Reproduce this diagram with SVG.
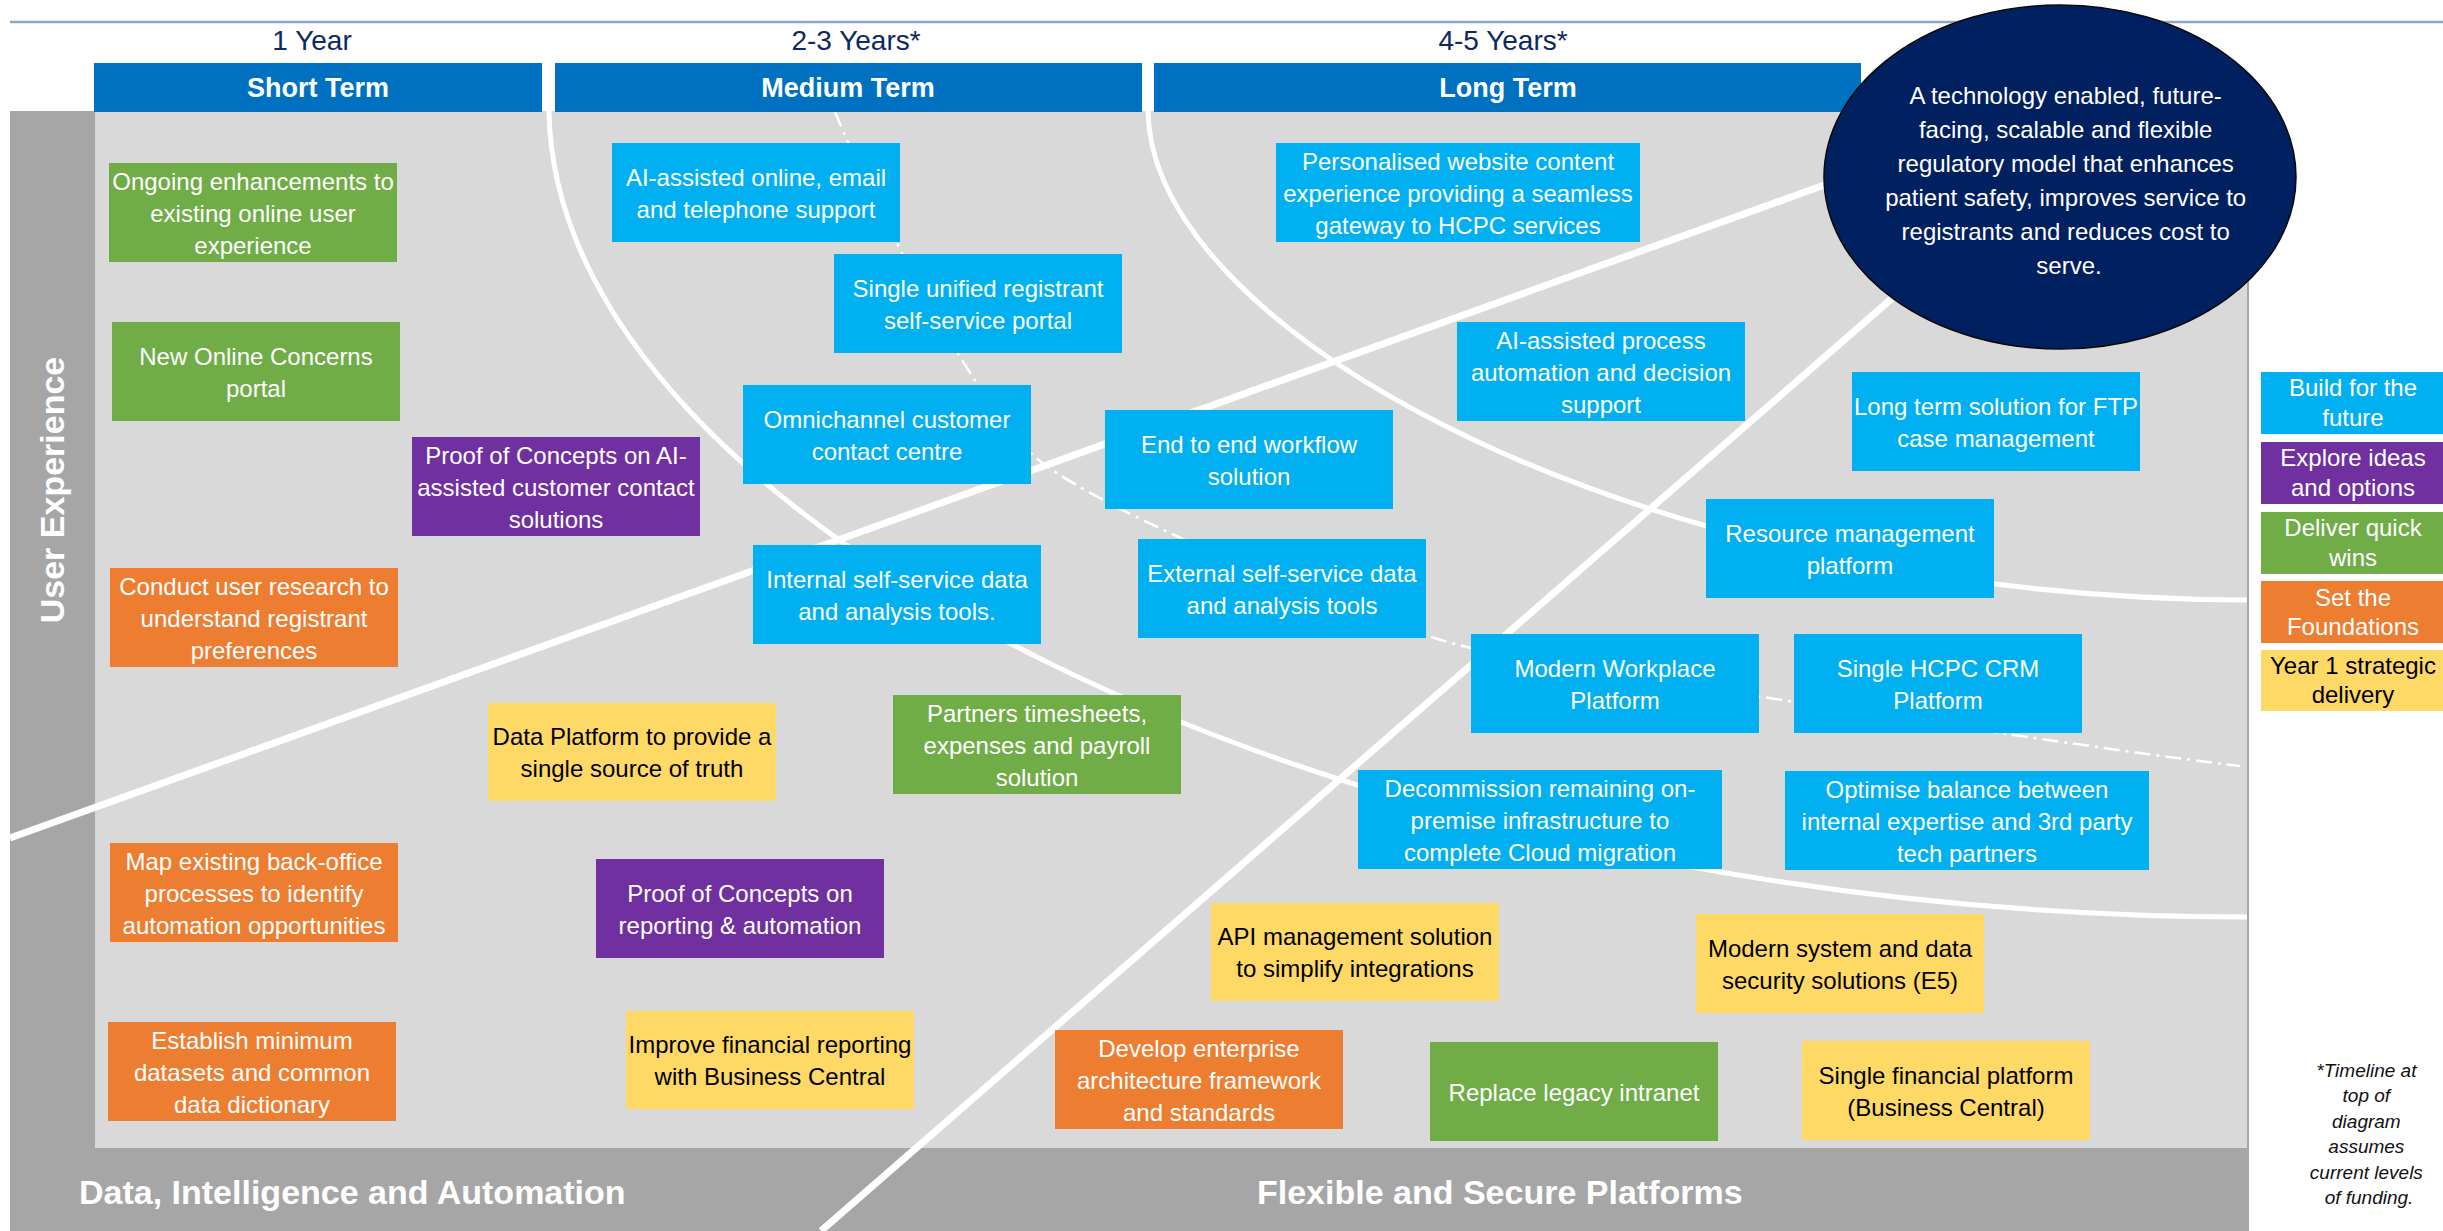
<svg xmlns="http://www.w3.org/2000/svg" width="2443" height="1231" viewBox="0 0 2443 1231">
<style>
  .t{font-family:"Liberation Sans",Arial,sans-serif;font-size:24px;text-anchor:middle}
  .w{fill:#ffffff}
  .k{fill:#000000}
  .blue{fill:#00b0f0}
  .green{fill:#70ad47}
  .orange{fill:#ed7d31}
  .purple{fill:#7030a0}
  .yellow{fill:#ffd966}
  .hdr{fill:#0070c0}
  .hdrt{font-family:"Liberation Sans",Arial,sans-serif;font-size:27px;font-weight:bold;fill:#ffffff;text-anchor:middle}
  .yr{font-family:"Liberation Sans",Arial,sans-serif;font-size:28px;fill:#0e2a5c;text-anchor:middle}
  .band{font-family:"Liberation Sans",Arial,sans-serif;font-size:34px;font-weight:bold;fill:#ffffff}
  .curve{fill:none;stroke:#ffffff;stroke-width:5}
  .diag{fill:none;stroke:#ffffff;stroke-width:7}
  .dash{fill:none;stroke:#ffffff;stroke-width:2.5;stroke-dasharray:16 6 3 6}
  .note{font-family:"Liberation Sans",Arial,sans-serif;font-size:19px;font-style:italic;fill:#111111;text-anchor:middle}
</style>

<rect x="0" y="0" width="2443" height="1231" fill="#ffffff"/>
<line x1="10" y1="22" x2="2443" y2="22" stroke="#8ea9c4" stroke-width="2.5"/>

<g id="background">
  <rect x="10" y="111" width="2239" height="1120" fill="#a6a6a6"/>
  <rect x="95" y="111" width="2152" height="1037" fill="#d9d9d9"/>
</g>

<g id="connectors">
  <path class="curve" d="M549,111 C555,520 1330,915 2247,917"/>
  <path class="curve" d="M1148,111 C1152,335 1640,598 2247,600"/>
  <line class="diag" x1="10" y1="838" x2="1830" y2="183"/>
  <line class="diag" x1="821" y1="1231" x2="1905" y2="287"/>
  <path class="dash" d="M835,112 C875,208 974,402 1034,456 S1380,628 1471,648 S2100,750 2240,766"/>
</g>

<g id="timeline">
  <text class="yr" x="312" y="50">1 Year</text>
  <text class="yr" x="856" y="50">2-3 Years*</text>
  <text class="yr" x="1503" y="50">4-5 Years*</text>
  <g id="hdr-short"><rect class="hdr" x="94" y="63" width="448" height="49"/><text class="hdrt" x="318" y="97">Short Term</text></g>
  <g id="hdr-medium"><rect class="hdr" x="555" y="63" width="587" height="49"/><text class="hdrt" x="848" y="97">Medium Term</text></g>
  <g id="hdr-long"><rect class="hdr" x="1154" y="63" width="707" height="49"/><text class="hdrt" x="1508" y="97">Long Term</text></g>
</g>

<g id="lane-labels">
  <text class="band" x="64" y="490" text-anchor="middle" font-size="33" transform="rotate(-90 64 490)">User Experience</text>
  <text class="band" x="79" y="1204">Data, Intelligence and Automation</text>
  <text class="band" x="1257" y="1204">Flexible and Secure Platforms</text>
</g>

<g id="n1"><rect class="green" x="109" y="163" width="288" height="99"/><text class="t w" x="253"><tspan x="253" y="189.5">Ongoing enhancements to</tspan><tspan x="253" y="221.5">existing online user</tspan><tspan x="253" y="253.5">experience</tspan></text></g>
<g id="n2"><rect class="green" x="112" y="322" width="288" height="99"/><text class="t w"><tspan x="256" y="364.5">New Online Concerns</tspan><tspan x="256" y="396.5">portal</tspan></text></g>
<g id="n3"><rect class="purple" x="412" y="437" width="288" height="99"/><text class="t w"><tspan x="556" y="463.5">Proof of Concepts on AI-</tspan><tspan x="556" y="495.5">assisted customer contact</tspan><tspan x="556" y="527.5">solutions</tspan></text></g>
<g id="n4"><rect class="orange" x="110" y="568" width="288" height="99"/><text class="t w"><tspan x="254" y="594.5">Conduct user research to</tspan><tspan x="254" y="626.5">understand registrant</tspan><tspan x="254" y="658.5">preferences</tspan></text></g>
<g id="n5"><rect class="orange" x="110" y="843" width="288" height="99"/><text class="t w"><tspan x="254" y="869.5">Map existing back-office</tspan><tspan x="254" y="901.5">processes to identify</tspan><tspan x="254" y="933.5">automation opportunities</tspan></text></g>
<g id="n6"><rect class="orange" x="108" y="1022" width="288" height="99"/><text class="t w"><tspan x="252" y="1048.5">Establish minimum</tspan><tspan x="252" y="1080.5">datasets and common</tspan><tspan x="252" y="1112.5">data dictionary</tspan></text></g>
<g id="n7"><rect class="yellow" x="488" y="703" width="288" height="98"/><text class="t k"><tspan x="632" y="745">Data Platform to provide a</tspan><tspan x="632" y="777">single source of truth</tspan></text></g>
<g id="n8"><rect class="purple" x="596" y="859" width="288" height="99"/><text class="t w"><tspan x="740" y="901.5">Proof of Concepts on</tspan><tspan x="740" y="933.5">reporting &amp; automation</tspan></text></g>
<g id="n9"><rect class="yellow" x="626" y="1011" width="288" height="98"/><text class="t k"><tspan x="770" y="1053">Improve financial reporting</tspan><tspan x="770" y="1085">with Business Central</tspan></text></g>
<g id="n10"><rect class="blue" x="612" y="143" width="288" height="99"/><text class="t w"><tspan x="756" y="185.5">AI-assisted online, email</tspan><tspan x="756" y="217.5">and telephone support</tspan></text></g>
<g id="n11"><rect class="blue" x="834" y="254" width="288" height="99"/><text class="t w"><tspan x="978" y="296.5">Single unified registrant</tspan><tspan x="978" y="328.5">self-service portal</tspan></text></g>
<g id="n12"><rect class="blue" x="743" y="385" width="288" height="99"/><text class="t w"><tspan x="887" y="427.5">Omnichannel customer</tspan><tspan x="887" y="459.5">contact centre</tspan></text></g>
<g id="n13"><rect class="blue" x="1105" y="410" width="288" height="99"/><text class="t w"><tspan x="1249" y="452.5">End to end workflow</tspan><tspan x="1249" y="484.5">solution</tspan></text></g>
<g id="n14"><rect class="blue" x="753" y="545" width="288" height="99"/><text class="t w"><tspan x="897" y="587.5">Internal self-service data</tspan><tspan x="897" y="619.5">and analysis tools.</tspan></text></g>
<g id="n15"><rect class="blue" x="1138" y="539" width="288" height="99"/><text class="t w"><tspan x="1282" y="581.5">External self-service data</tspan><tspan x="1282" y="613.5">and analysis tools</tspan></text></g>
<g id="n16"><rect class="green" x="893" y="695" width="288" height="99"/><text class="t w"><tspan x="1037" y="721.5">Partners timesheets,</tspan><tspan x="1037" y="753.5">expenses and payroll</tspan><tspan x="1037" y="785.5">solution</tspan></text></g>
<g id="n17"><rect class="orange" x="1055" y="1030" width="288" height="99"/><text class="t w"><tspan x="1199" y="1056.5">Develop enterprise</tspan><tspan x="1199" y="1088.5">architecture framework</tspan><tspan x="1199" y="1120.5">and standards</tspan></text></g>
<g id="n18"><rect class="yellow" x="1211" y="903" width="288" height="98"/><text class="t k"><tspan x="1355" y="945">API management solution</tspan><tspan x="1355" y="977">to simplify integrations</tspan></text></g>
<g id="n19"><rect class="blue" x="1276" y="143" width="364" height="99"/><text class="t w"><tspan x="1458" y="169.5">Personalised website content</tspan><tspan x="1458" y="201.5">experience providing a seamless</tspan><tspan x="1458" y="233.5">gateway to HCPC services</tspan></text></g>
<g id="n20"><rect class="blue" x="1457" y="322" width="288" height="99"/><text class="t w"><tspan x="1601" y="348.5">AI-assisted process</tspan><tspan x="1601" y="380.5">automation and decision</tspan><tspan x="1601" y="412.5">support</tspan></text></g>
<g id="n21"><rect class="blue" x="1852" y="372" width="288" height="99"/><text class="t w"><tspan x="1996" y="414.5">Long term solution for FTP</tspan><tspan x="1996" y="446.5">case management</tspan></text></g>
<g id="n22"><rect class="blue" x="1706" y="499" width="288" height="99"/><text class="t w"><tspan x="1850" y="541.5">Resource management</tspan><tspan x="1850" y="573.5">platform</tspan></text></g>
<g id="n23"><rect class="blue" x="1471" y="634" width="288" height="99"/><text class="t w"><tspan x="1615" y="676.5">Modern Workplace</tspan><tspan x="1615" y="708.5">Platform</tspan></text></g>
<g id="n24"><rect class="blue" x="1794" y="634" width="288" height="99"/><text class="t w"><tspan x="1938" y="676.5">Single HCPC CRM</tspan><tspan x="1938" y="708.5">Platform</tspan></text></g>
<g id="n25"><rect class="blue" x="1358" y="770" width="364" height="99"/><text class="t w"><tspan x="1540" y="796.5">Decommission remaining on-</tspan><tspan x="1540" y="828.5">premise infrastructure to</tspan><tspan x="1540" y="860.5">complete Cloud migration</tspan></text></g>
<g id="n26"><rect class="blue" x="1785" y="771" width="364" height="99"/><text class="t w"><tspan x="1967" y="797.5">Optimise balance between</tspan><tspan x="1967" y="829.5">internal expertise and 3rd party</tspan><tspan x="1967" y="861.5">tech partners</tspan></text></g>
<g id="n27"><rect class="yellow" x="1696" y="914" width="288" height="99"/><text class="t k"><tspan x="1840" y="956.5">Modern system and data</tspan><tspan x="1840" y="988.5">security solutions (E5)</tspan></text></g>
<g id="n28"><rect class="green" x="1430" y="1042" width="288" height="99"/><text class="t w" x="1574" y="1100.5">Replace legacy intranet</text></g>
<g id="n29"><rect class="yellow" x="1802" y="1041" width="288" height="99"/><text class="t k"><tspan x="1946" y="1083.5">Single financial platform</tspan><tspan x="1946" y="1115.5">(Business Central)</tspan></text></g>

<g id="vision">
  <ellipse cx="2060" cy="177" rx="236" ry="172" fill="#002060" stroke="#0a0a0a" stroke-width="1.5"/>
  <text class="t w" font-size="25">
    <tspan x="2069" y="104">A technology enabled, future-</tspan>
    <tspan x="2069" y="138">facing, scalable and flexible</tspan>
    <tspan x="2069" y="172">regulatory model that enhances</tspan>
    <tspan x="2069" y="206">patient safety, improves service to</tspan>
    <tspan x="2069" y="240">registrants and reduces cost to</tspan>
    <tspan x="2069" y="274">serve.</tspan>
  </text>
</g>

<g id="legend">
  <g id="lg1"><rect class="blue" x="2261" y="372" width="190" height="62"/><text class="t w"><tspan x="2353" y="396">Build for the</tspan><tspan x="2353" y="425.5">future</tspan></text></g>
  <g id="lg2"><rect class="purple" x="2261" y="442" width="190" height="62"/><text class="t w"><tspan x="2353" y="466">Explore ideas</tspan><tspan x="2353" y="496">and options</tspan></text></g>
  <g id="lg3"><rect class="green" x="2261" y="512" width="190" height="62"/><text class="t w"><tspan x="2353" y="536">Deliver quick</tspan><tspan x="2353" y="566">wins</tspan></text></g>
  <g id="lg4"><rect class="orange" x="2261" y="581" width="190" height="62"/><text class="t w"><tspan x="2353" y="606">Set the</tspan><tspan x="2353" y="635">Foundations</tspan></text></g>
  <g id="lg5"><rect class="yellow" x="2261" y="650" width="190" height="61"/><text class="t k"><tspan x="2353" y="674">Year 1 strategic</tspan><tspan x="2353" y="703">delivery</tspan></text></g>
</g>

<g id="footnote">
  <text class="note">
    <tspan x="2369" y="1077">*Timeline at</tspan>
    <tspan x="2369" y="1102">top of</tspan>
    <tspan x="2369" y="1128">diagram</tspan>
    <tspan x="2369" y="1153">assumes</tspan>
    <tspan x="2369" y="1179">current levels</tspan>
    <tspan x="2369" y="1204">of funding.</tspan>
  </text>
</g>
</svg>
